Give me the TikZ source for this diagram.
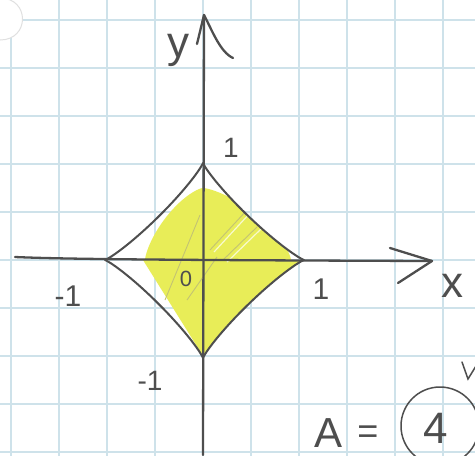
\documentclass[tikz,border=0pt]{standalone}
\usepackage{fontspec}
\setmainfont{Liberation Sans}
\definecolor{gridc}{RGB}{206,226,234}
\definecolor{pencil}{RGB}{78,78,78}
\definecolor{hl}{RGB}{232,237,88}
\definecolor{hatchc}{RGB}{195,195,115}
\newcommand\astpath{(101,0) -- plot[domain=3:87,samples=40] ({101*cos(\x)^2.3},{-97*sin(\x)^2.3}) -- (0,-97) -- plot[domain=3:87,samples=40] ({-98*sin(\x)^2.3},{-97*cos(\x)^2.3}) -- (-98,0) -- plot[domain=3:87,samples=40] ({-98*cos(\x)^2.3},{98*sin(\x)^2.3}) -- (0,98) -- plot[domain=3:87,samples=40] ({101*sin(\x)^2.3},{98*cos(\x)^2.3}) -- cycle}
\begin{document}
\begin{tikzpicture}[x=1pt,y=-1pt,
  axis/.style={pencil, line width=2.3pt, line cap=round, line join=round},
  curve/.style={pencil, line width=2pt, line join=round},
  lab/.style={text=pencil, inner sep=0pt},
  gridline/.style={gridc, line width=1.3pt}]
\useasboundingbox (0,0) rectangle (475,456);
\clip (0,0) rectangle (475,456);
\fill[white] (0,0) rectangle (475,456);
% grid paper
\foreach \i in {-4,...,5} \draw[gridline] ({203+48*\i},0) -- ({203+48*\i},456);
\foreach \j in {-5,...,4} \draw[gridline] (0,{260+48*\j}) -- (475,{260+48*\j});
% punched hole
\filldraw[fill=white, draw=black!12, line width=1pt] (0,-2) .. controls (30,-2) and (30,40) .. (0,40);
% astroid region
\begin{scope}[shift={(203,260)}]
  \begin{scope}
    \clip \astpath;
    \fill[hl] (88,0) -- plot[domain=3:87,samples=30] ({88*cos(\x)^1.4},{-72*sin(\x)^1.4}) -- (0,-72)
      -- plot[domain=3:87,samples=30] ({-58*sin(\x)^1.4},{-72*cos(\x)^1.4}) -- (-60,0)
      -- (0,96) -- (100,0) -- cycle;
    \draw[hatchc, line width=0.9pt] (-38,40) -- (-3,-45);
    \draw[hatchc, line width=0.9pt] (-16,40) -- (14,-3);
    \draw[hatchc, line width=0.9pt] (7,-10) -- (44,-50);
    \draw[hatchc, line width=0.9pt] (20,0) -- (54,-33);
    \draw[white, line width=1.2pt, opacity=0.7] (11,-8) -- (48,-48);
    \draw[white, line width=1.2pt, opacity=0.7] (24,2) -- (58,-31);
  \end{scope}
  \draw[curve] \astpath;
\end{scope}
% axes
\draw[axis] (15,257) .. controls (60,259) and (150,260) .. (432,261);
\draw[axis] (390,248) -- (432,261) -- (398,283);
\draw[axis] (203,455) -- (204,15);
\draw[axis] (197,44) -- (204,15) .. controls (212,30) and (220,52) .. (233,58);
% labels
\node[lab, font=\fontsize{44}{44}\selectfont] (ylab) at (178,50) {y};
\node[lab, font=\fontsize{44}{44}\selectfont] (xlab) at (452,286) {x};
\node[lab, font=\fontsize{28}{28}\selectfont] (ytick) at (231,148) {1};
\node[lab, font=\fontsize{30}{30}\selectfont] (xtick) at (321,289) {1};
\node[lab, font=\fontsize{30}{30}\selectfont] (xneg) at (68,296) {-1};
\node[lab, font=\fontsize{28}{28}\selectfont] (yneg) at (150,381) {-1};
\node[lab, font=\fontsize{22}{22}\selectfont] (orig) at (186,279) {0};
\node[lab, font=\fontsize{42}{42}\selectfont] (alab) at (329,433) {A};
\node[lab, font=\fontsize{36}{36}\selectfont] (eq) at (368,435) {=};
\node[lab, font=\fontsize{44}{44}\selectfont] (four) at (436,428) {4};
\draw[pencil, line width=1.5pt] (440,426) circle (39);
\draw[pencil, line width=1.5pt, line cap=round] (462,362) -- (468,379) -- (476,366);
\end{tikzpicture}
\end{document}
